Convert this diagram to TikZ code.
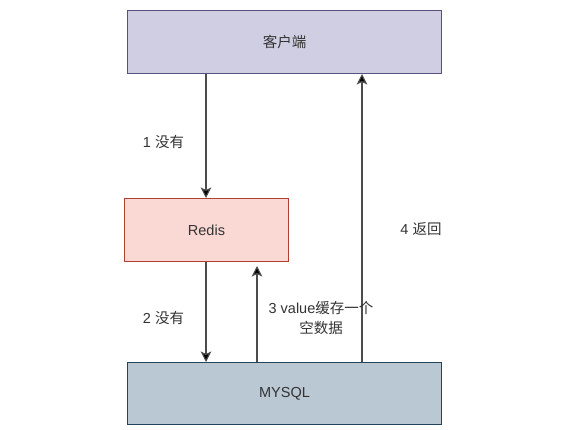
\documentclass[tikz,border=0pt]{standalone}
\usepackage{fontspec}
\setmainfont{Liberation Sans}
\newfontfamily\cjk{Noto Sans CJK SC}
\usetikzlibrary{arrows.meta}
\definecolor{cfill}{HTML}{D0CEE2}
\definecolor{cdraw}{HTML}{56517E}
\definecolor{rfill}{HTML}{FAD9D5}
\definecolor{rdraw}{HTML}{AE4132}
\definecolor{mfill}{HTML}{BAC8D3}
\definecolor{mdraw}{HTML}{23445D}
\definecolor{txt}{HTML}{333333}
\begin{document}
\begin{tikzpicture}[x=1pt,y=-1pt,
  box/.style={draw, line width=1pt, inner sep=0pt, anchor=north west, font=\fontsize{14.5}{20}\selectfont, text=txt},
  lbl/.style={font=\fontsize{14.5}{20}\selectfont, text=txt, inner sep=0pt, align=center},
  conn/.style={draw=black!70, line width=1.1pt, -{Stealth[length=10.5pt,width=10.5pt,inset=2.5pt,fill=black]}}]
\useasboundingbox (0,0) rectangle (578,430);
\fill[white] (0,0) rectangle (578,430);
\node[box, fill=cfill, draw=cdraw, minimum width=314pt, minimum height=63pt] (client) at (127,10) {\cjk 客户端};
\node[box, fill=rfill, draw=rdraw, minimum width=164pt, minimum height=63pt] (redis) at (124,198) {Redis};
\node[box, fill=mfill, draw=mdraw, minimum width=314pt, minimum height=62pt] (mysql) at (127,362) {MYSQL};
\coordinate (c3) at (257,266);
\draw[conn] (client.south -| 206,0) -- (redis.north -| 206,0);
\draw[conn] (redis.south -| 206,0) -- (mysql.north -| 206,0);
\draw[conn] (mysql.north -| c3) -- (c3);
\draw[conn] (mysql.north -| 362,0) -- (client.south -| 362,0);
\node[lbl] (l1) at (163.5,142) {1 {\cjk 没有}};
\node[lbl] (l2) at (163.5,318) {2 {\cjk 没有}};
\node[lbl] (l3) at (321,318) {3 value{\cjk 缓存一个}\\{\cjk 空数据}};
\node[lbl] (l4) at (421,229) {4 {\cjk 返回}};
\end{tikzpicture}
\end{document}
